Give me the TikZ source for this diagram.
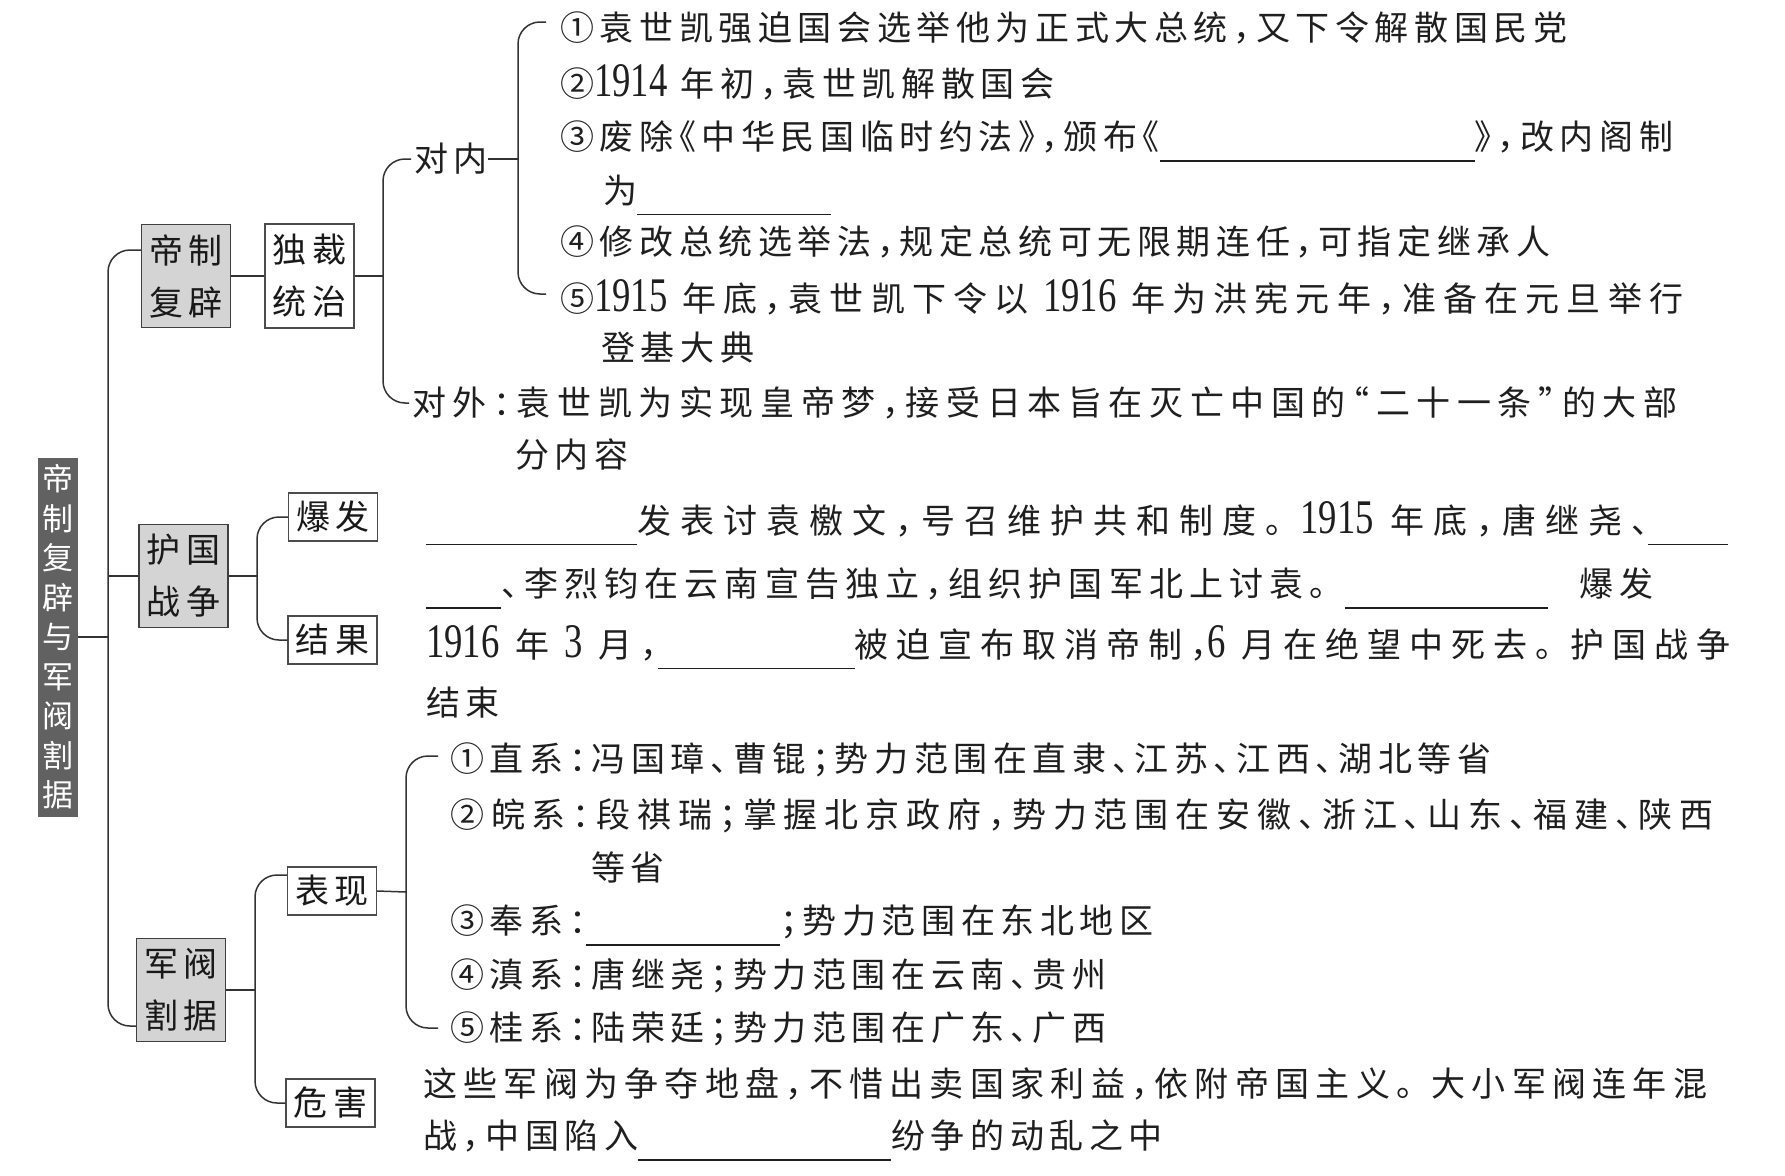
\documentclass[tikz,border=0pt]{standalone}
\usepackage{fontspec}
\setmainfont{Noto Sans CJK SC}[LetterSpace=16.5,RawFeature={+halt}]
\newfontfamily\numf{Liberation Serif}[Scale=1.42,FakeStretch=0.76]
\newcommand\nm[1]{{\numf #1}}
\newcommand\blank[1]{\smash{\rule[-12pt]{#1pt}{1.3pt}}}
\newcommand\jh{。\kern18pt}
\newcommand\ls[2]{{\addfontfeature{LetterSpace=#1}#2}}
\usetikzlibrary{calc}
\begin{document}
\begin{tikzpicture}[x=1pt,y=-1pt,
  txt/.style={anchor=west,inner sep=0pt,font=\fontsize{34}{41}\selectfont,text=black!88},
  mainbox/.style={draw=black!75,line width=1.2pt,fill=black!17,text=black!90,inner sep=0pt,minimum width=89pt,minimum height=103pt,align=center,font=\fontsize{34}{52}\selectfont},
  subbox/.style={draw=black!70,line width=1.2pt,fill=white,text=black!90,inner sep=0pt,minimum width=89pt,minimum height=48pt,align=center,font=\fontsize{34}{52}\selectfont},
  titlebox/.style={fill=black!62,text=white,inner sep=0pt,minimum width=40pt,minimum height=359pt,align=center,font=\fontsize{31}{39.5}\selectfont},
  conn/.style={draw=black!80,line width=1.5pt},
  brk/.style={conn,rounded corners=22pt}]
\useasboundingbox[fill=white] (0,0) rectangle (1785,1175);

% boxes
\node[titlebox] (title) at (58,637) {帝\\制\\复\\辟\\与\\军\\阀\\割\\据};
\node[mainbox] (dzfp) at (186,276) {帝制\\复辟};
\node[subbox,minimum height=104pt] (dczz) at (309.5,276) {独裁\\统治};
\node[mainbox] (hgzz) at (183.5,576) {护国\\战争};
\node[subbox] (bf) at (333,517) {爆发};
\node[subbox] (jg) at (332.5,640) {结果};
\node[mainbox] (jfgj) at (181,990) {军阀\\割据};
\node[subbox] (bx) at (332,891) {表现};
\node[subbox] (wh) at (330.5,1103) {危害};

% text: 帝制复辟
\node[txt] (dn) at (414,159) {对内};
\node[txt] (t1) at (560,28) {①袁世凯强迫国会选举他为正式大总统，又下令解散国民党};
\node[txt] (t2) at (560,82) {②\nm{1914} 年初，袁世凯解散国会};
\node[txt] (t3) at (560,137) {③废除《中华民国临时约法》，颁布《\blank{315}》，改内阁制};
\node[txt] (t3b) at (603,190) {为\blank{194}};
\node[txt] (t4) at (560,242) {④修改总统选举法，规定总统可无限期连任，可指定继承人};
\node[txt] (t5) at (560,297) {\ls{21}{⑤\nm{1915} 年底，袁世凯下令以 \nm{1916} 年为洪宪元年，准备在元旦举行}};
\node[txt] (t5b) at (601,348) {登基大典};
\node[txt] (dw) at (412,403) {\ls{19.4}{对外：袁世凯为实现皇帝梦，接受日本旨在灭亡中国的“二十一条”的大部}};
\node[txt] (dwb) at (515,455) {分内容};

% text: 护国战争
\node[txt] (b1) at (426,519) {\ls{26.5}{\blank{211}发表讨袁檄文，号召维护共和制度\jh\nm{1915} 年底，唐继尧、\blank{80}}};
\node[txt] (b2) at (426,584) {\ls{18}{\blank{75}、李烈钧在云南宣告独立，组织护国军北上讨袁\jh\blank{203}\kern32pt 爆发}};
\node[txt] (b3) at (426,643) {\ls{23.5}{\nm{1916} 年 \nm{3} 月，\blank{197}被迫宣布取消帝制，\nm{6} 月在绝望中死去\jh 护国战争}};
\node[txt] (b4) at (426,703) {结束};

% text: 军阀割据
\node[txt] (w1) at (450,760) {①直系：冯国璋、曹锟；势力范围在直隶、江苏、江西、湖北等省};
\node[txt] (w2) at (450,816) {\ls{20.2}{②皖系：段祺瑞；掌握北京政府，势力范围在安徽、浙江、山东、福建、陕西}};
\node[txt] (w2b) at (591,867) {等省};
\node[txt] (w3) at (450,922) {③奉系：\blank{194}；势力范围在东北地区};
\node[txt] (w4) at (450,976) {④滇系：唐继尧；势力范围在云南、贵州};
\node[txt] (w5) at (450,1029) {⑤桂系：陆荣廷；势力范围在广东、广西};
\node[txt] (h1) at (423,1084) {\ls{18.5}{这些军阀为争夺地盘，不惜出卖国家利益，依附帝国主义\jh 大小军阀连年混}};
\node[txt] (h2) at (423,1136) {战，中国陷入\blank{253}纷争的动乱之中};

% junctions
\coordinate (jm) at (108,637);
\coordinate (j1) at (383,276);
\coordinate (j2) at (518,159);
\coordinate (j3) at (257,576);
\coordinate (j4) at (255,990);
\coordinate (j5) at (406,892);

% connectors
\draw[conn] (title.east) -- (jm);
\draw[brk] ($(dzfp.west)+(0,-26)$) -| (jm) |- ($(jfgj.west)+(0,36)$);
\draw[conn] (hgzz.west) -- (hgzz.west -| jm);
\draw[conn] (dzfp.east) -- (dczz.west);
\draw[conn] (dczz.east) -- (j1);
\draw[brk] ($(dn.west)+(-3,0)$) -| (j1) |- ($(dw.west)+(-3,0)$);
\draw[conn] (dn.east) -- (j2);
\draw[brk] ($(t1.west)+(-14,-6)$) -| (j2) |- ($(t5.west)+(-14,-3)$);
\draw[conn] (hgzz.east) -- (j3);
\draw[brk] (bf.west) -| (j3) |- (jg.west);
\draw[conn] (jfgj.east) -- (j4);
\draw[brk] ($(bx.west)+(0,-16)$) -| (j4) |- (wh.west);
\draw[conn] (bx.east) -- (j5);
\draw[brk] ($(w1.west)+(-12,-4)$) -| (j5) |- ($(w5.west)+(-12,-1)$);
\end{tikzpicture}
\end{document}
